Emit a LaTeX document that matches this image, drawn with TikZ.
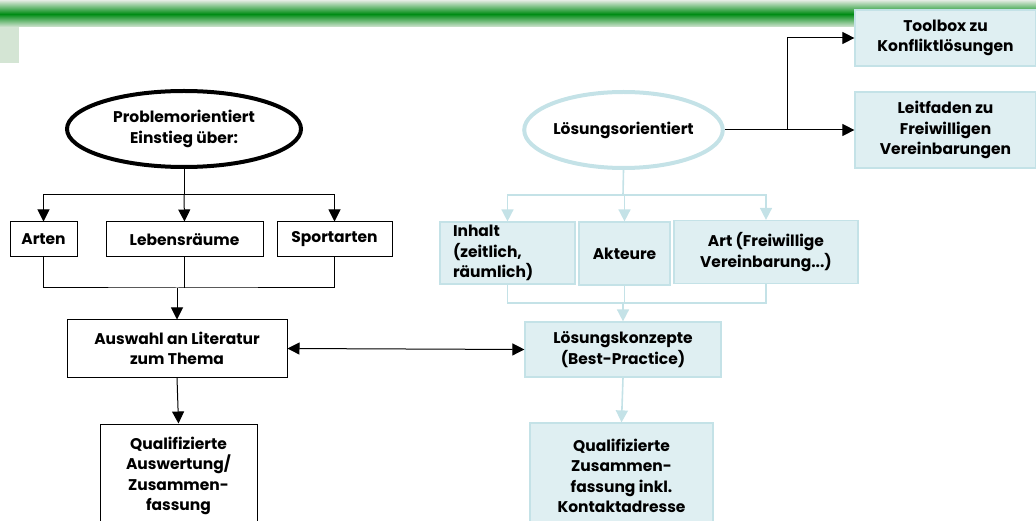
\documentclass[tikz,border=0pt]{standalone}
\usepackage{fontspec}
\setmainfont{Poppins}
\usepackage{tikz}
\usetikzlibrary{arrows.meta,positioning,shapes.geometric}
\definecolor{bandgreen}{RGB}{0,140,20}
\definecolor{palegreen}{RGB}{212,229,212}
\definecolor{iceline}{RGB}{196,226,231}
\definecolor{icefill}{RGB}{223,239,242}

\begin{document}
\begin{tikzpicture}[
    x=1pt, y=-1pt,
    >={Triangle[length=12pt,width=12pt]},
    font=\bfseries\fontsize{15.5}{20.5}\selectfont,
    block/.style={
		rectangle,
		draw=black,
		line width=1pt,
		fill=white,
		align=center,
		inner sep=0pt
	},
    iceblock/.style={
		rectangle,
		draw=iceline,
		line width=1.2pt,
		fill=icefill,
		align=center,
		inner sep=0pt
	},
    start/.style={ellipse, draw=black, line width=4pt, align=center, inner sep=0pt},
    icestart/.style={ellipse, draw=iceline, line width=4pt, align=center, inner sep=0pt},
    link/.style={draw=black, line width=1pt},
    icelink/.style={draw=iceline, line width=1.6pt}
  ]
  \useasboundingbox (0,0) rectangle (1036,521);

  % green band on top
  \shade[top color=palegreen, bottom color=palegreen, middle color=bandgreen] (0,1) rectangle (1036,27);
  \fill[palegreen] (0,27) rectangle (19,63);

  % We start by placing the blocks
  \node [start, minimum width=234pt, minimum height=76pt] (prob) at (184,129)
    {Problemorientiert\\Einstieg über:};
  \node [block, minimum width=67pt, minimum height=35pt] (arten) at (43.5,239.5) {Arten};
  \node [block, minimum width=157pt, minimum height=35pt] (leben) at (184.5,239.5) {Lebensräume};
  \node [block, minimum width=115pt, minimum height=35pt] (sport) at (334.5,239.5) {Sportarten};
  \node [block, minimum width=220pt, minimum height=57pt] (ausw) at (177,348.5)
    {Auswahl an Literatur\\zum Thema};
  \node [block, minimum width=157pt, minimum height=104pt] (qual) at (178.5,476)
    {Qualifizierte\\Auswertung/\\Zusammen-\\fassung};

  \node [icestart, minimum width=190pt, minimum height=76pt] (loes) at (623.5,130) {Lösungsorientiert};
  \node [iceblock, minimum width=181pt, minimum height=56pt] (tool) at (945.5,38)
    {Toolbox zu\\Konfliktlösungen};
  \node [iceblock, minimum width=181pt, minimum height=76pt] (leit) at (945.5,130)
    {Leitfaden zu\\Freiwilligen\\Vereinbarungen};
  \node [iceblock, minimum width=135pt, minimum height=62pt, text width=109pt, align=left] (inhalt) at (507.5,253)
    {Inhalt\\(zeitlich,\\räumlich)};
  \node [iceblock, minimum width=91pt, minimum height=63pt] (akteure) at (624.5,253.5) {Akteure};
  \node [iceblock, minimum width=184pt, minimum height=63pt] (art) at (766,252)
    {Art (Freiwillige\\Vereinbarung...)};
  \node [iceblock, minimum width=196pt, minimum height=55pt] (konz) at (623,349.5)
    {Lösungskonzepte\\(Best-Practice)};
  \node [iceblock, minimum width=183pt, minimum height=106pt] (qualb) at (621.5,476)
    {Qualifizierte\\Zusammen-\\fassung inkl.\\Kontaktadresse};

  % left tree
  \coordinate (ptop) at (184,195);
  \coordinate (pjoin) at (177,288);
  \draw [link] (prob.south) -- (ptop);
  \draw [link,->] (ptop) -| (arten.north);
  \draw [link,->] (ptop) -- (leben.north);
  \draw [link,->] (ptop) -| (sport.north);
  \draw [link] (arten.south) |- (pjoin) -| (sport.south);
  \draw [link] (leben.south) -- (leben.south |- pjoin);
  \draw [link,->] (pjoin) -- (ausw.north);
  \draw [link,->] (ausw.south) -- (qual.north);
  \draw [link,<->] (ausw.east) -- (konz.west);

  % right tree
  \coordinate (fork) at (787,130);
  \draw [link,->] (loes.east) -- (leit.west);
  \draw [link,->] (fork) |- (tool.west);

  \coordinate (ltop) at (623,195);
  \coordinate (ljoin) at (623,303);
  \draw [icelink] (loes.south) -- (ltop);
  \draw [icelink,->] (ltop) -| (inhalt.north);
  \draw [icelink,->] (ltop) -| (akteure.north);
  \draw [icelink,->] (ltop) -| (art.north);
  \draw [icelink] (inhalt.south) |- (ljoin) -| (art.south);
  \draw [icelink] (akteure.south) -- (akteure.south |- ljoin);
  \draw [icelink,->] (ljoin) -- (konz.north);
  \draw [icelink,->] (konz.south) -- (qualb.north);
\end{tikzpicture}
\end{document}
